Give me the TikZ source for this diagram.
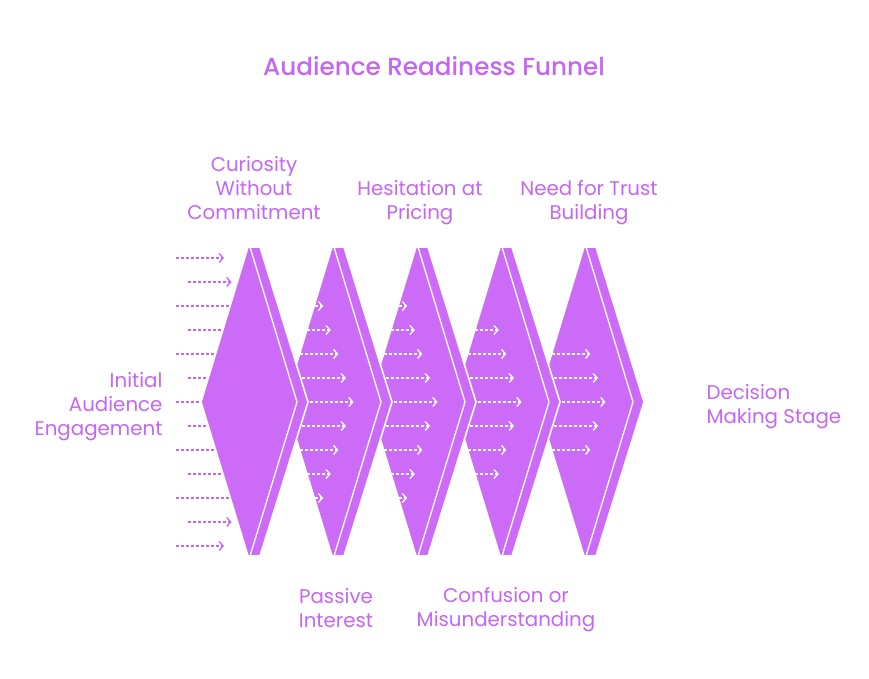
\documentclass[tikz,border=0pt]{standalone}
\usepackage{fontspec}
\setmainfont{Poppins}
\newfontfamily\titlefont{Poppins Medium}
\usetikzlibrary{arrows.meta}
\definecolor{funnel}{HTML}{CB6BF7}
\definecolor{ink}{HTML}{C466F2}
\begin{document}
\begin{tikzpicture}[x=1pt,y=-1pt,line join=round,
	stage/.style={fill=funnel,draw=white,line width=1.6pt},
	crease/.style={draw=white,line width=1.3pt},
	flow/.style={line width=1.3pt,dash pattern=on 3pt off 2pt,-{Straight Barb[length=4pt,width=9pt]}},
	lbl/.style={text=ink,font=\fontsize{19.8}{24}\selectfont,align=center}]
	\def\dx{84}
	\useasboundingbox (0,0) rectangle (869,678);
	\foreach \k/\rr in {4/2,3/3,2/4,1/4}{ % stages from right to left
		\path[stage] ({248+\k*\dx},247) -- ({260+\k*\dx},247) -- ({308+\k*\dx},402) -- ({260+\k*\dx},556) -- ({248+\k*\dx},556) -- ({201+\k*\dx},402) -- cycle;
		\draw[crease] ({250+\k*\dx},247) -- ({297+\k*\dx},402) -- ({250+\k*\dx},556);
		\foreach \r in {-\rr,...,\rr}
			\draw[flow,white] ({176+\k*\dx+12*mod(abs(\r),2)},{402+24*\r}) -- ({224+\k*\dx+7.6*(6-abs(\r))},{402+24*\r});
	}
	\foreach \r in {-6,...,6} % incoming audience
		\draw[flow,ink] ({176+12*mod(abs(\r),2)},{402+24*\r}) -- ({224+7.6*(6-abs(\r))},{402+24*\r});
	\path[stage] (248,247) -- (260,247) -- (308,402) -- (260,556) -- (248,556) -- (201,402) -- cycle;
	\draw[crease] (250,247) -- (297,402) -- (250,556);
	\node[text=ink,font=\titlefont\fontsize{24.7}{28}\selectfont] (title) at (434,66) {Audience Readiness Funnel};
	\node[lbl] (curiosity) at (254,188.5) {Curiosity\\Without\\Commitment};
	\node[lbl] (hesitation) at (420,203) {Hesitation at\\Pricing};
	\node[lbl] (trust) at (589,203) {Need for Trust\\Building};
	\node[lbl,align=right,anchor=east] (initial) at (166,406.5) {Initial\\Audience\\Engagement};
	\node[lbl] (passive) at (336,608.5) {Passive\\Interest};
	\node[lbl] (confusion) at (506,610) {Confusion or\\Misunderstanding};
	\node[lbl,align=left,anchor=west] (decision) at (703,407) {Decision\\Making Stage};
\end{tikzpicture}
\end{document}
